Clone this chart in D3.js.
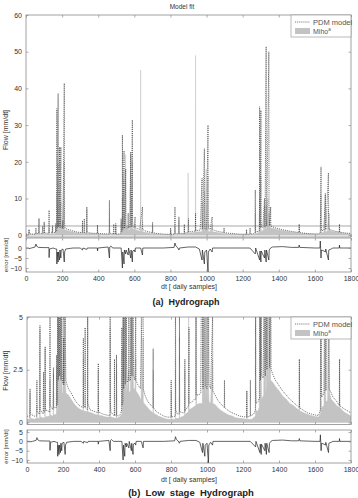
<!DOCTYPE html>
<html>
<head>
<meta charset="utf-8">
<script src="https://cdn.jsdelivr.net/npm/d3@7"></script>
<style>
  body { margin: 0; background: #fff; }
  svg { display: block; font-family: 'Liberation Sans', Arial, sans-serif; }
</style>
</head>
<body>
<div class="hydro-chart"></div>
<script>
// ---- data: [day, mm/dt] ----
const pdmModel = [
  [0,0.3],[15,0.25],[17,1.6],[18,0.4],[40,0.3],[54,0.3],[55,2.0],[56,0.5],[70,0.4],[72,4.6],[73,0.6],[90,0.4],[92,2.4],[93,0.5],
  [100,0.5],[101,3.6],[102,0.6],[126,0.5],[128,6.8],[129,0.8],[145,0.6],[147,2.6],[148,0.7],[163,0.7],[165,3.2],[166,0.8],[170,1.0],
  [171,34.5],[172,3.5],[174,2.0],[178,38.6],[179,4],[181,2.2],[186,24],[187,3.5],[189,2],[193,24],[194,3],[197,1.9],[202,1.8],[204,4],
  [205,1.8],[212,41.4],[213,4],[216,2.0],[222,1.8],[230,1.6],[245,1.4],[260,1.15],[275,0.95],[290,0.8],[312,0.7],[313,4.0],[314,0.8],
  [322,0.7],[323,4.5],[324,0.7],[336,0.6],[337,7.7],[338,0.9],[350,0.6],[380,0.5],[395,0.45],[396,2.8],[397,0.5],[420,0.4],[440,0.35],
  [461,0.32],[462,9.5],[463,1.0],[466,0.5],[485,0.3],[486,3.0],[487,0.35],[496,0.3],[497,3.2],[498,0.35],[510,0.3],[520,0.4],[526,0.6],
  [527,4.5],[528,0.8],[533,1.0],[534,27.3],[535,3.5],[537,1.6],[543,23],[544,3.5],[546,1.8],[552,18],[553,3],[556,1.9],[565,2],[566,6],
  [567,2],[575,2],[580,22.7],[581,4],[583,2.2],[589,31.4],[590,4],[593,2.2],[600,2],[604,5],[605,2],[615,1.8],[630,1.6],[645,7.7],
  [646,1.6],[655,1.3],[670,1.0],[690,0.8],[700,0.7],[701,3.5],[702,0.7],[720,0.5],[740,0.4],[760,0.3],[780,0.25],[800,0.25],[801,2.0],
  [802,0.25],[824,0.3],[825,7.7],[826,0.6],[835,0.4],[846,0.4],[847,5.0],[848,0.5],[870,0.45],[876,0.5],[877,3.0],[878,0.55],[898,0.8],
  [900,4.5],[901,0.9],[920,1.0],[930,1.1],[938,1.1],[939,6],[940,1.3],[955,1.3],[965,1.4],[975,15.5],[976,3],[978,1.6],[988,23.6],
  [989,3.5],[991,1.7],[1000,1.6],[1008,30],[1009,4],[1011,1.8],[1020,1.6],[1031,5],[1032,1.5],[1045,1.3],[1060,1.05],[1080,0.85],
  [1096,0.7],[1097,2.0],[1098,0.7],[1120,0.55],[1140,0.45],[1160,0.38],[1180,0.3],[1200,0.27],[1220,0.25],[1221,1.5],[1222,0.25],
  [1240,0.3],[1241,2.0],[1242,0.3],[1260,0.4],[1269,0.6],[1270,12.3],[1271,1.8],[1273,0.9],[1285,1.0],[1293,1.2],[1294,35],[1295,4],
  [1297,2],[1301,34],[1302,4],[1304,2.2],[1312,2.1],[1321,10],[1322,2.5],[1324,2.2],[1330,51.4],[1331,5],[1333,2.5],[1345,50],[1346,5],
  [1348,2.6],[1355,7.7],[1356,2.5],[1365,2.3],[1380,2.0],[1400,1.75],[1420,1.5],[1440,1.3],[1460,1.1],[1480,0.95],[1500,0.8],[1512,0.7],
  [1513,3.0],[1514,0.7],[1540,0.55],[1560,0.45],[1580,0.4],[1600,0.35],[1620,0.33],[1630,0.6],[1634,18.6],[1635,3],[1637,1.2],
  [1650,1.4],[1658,11.4],[1659,2.5],[1661,1.5],[1675,17],[1676,3],[1678,1.6],[1690,1.4],[1700,1.2],[1720,1.0],[1735,0.8],[1736,3.0],
  [1737,0.8],[1760,0.65],[1780,0.55],[1800,0.45]
];

const mihoObserved = [
  [0,0.15],[15,0.15],[17,1.4],[18,0.2],[40,0.15],[54,0.2],[55,0.8],[56,0.2],[71,0.2],[72,4.4],[73,0.25],[99,0.2],[100,3.5],[101,0.25],
  [126,0.3],[128,2.0],[129,0.35],[145,0.3],[147,2.3],[148,0.35],[164,0.4],[165,2.7],[166,0.45],[170,0.7],[171,12],[172,1.6],[174,1.1],
  [178,19.5],[179,2],[181,1.3],[186,12],[187,1.8],[189,1.3],[193,9],[194,1.8],[196,1.4],[200,1.4],[212,20],[213,2],[216,1.4],[230,1.3],
  [245,1.1],[260,0.9],[275,0.75],[290,0.65],[312,0.55],[313,3.0],[314,0.55],[336,0.5],[337,7.0],[338,0.5],[360,0.45],[380,0.38],
  [395,0.35],[396,2.5],[397,0.35],[420,0.3],[440,0.25],[461,0.25],[462,4.5],[463,0.27],[480,0.22],[497,0.2],[498,2.8],[499,0.2],
  [515,0.25],[527,0.4],[528,3.5],[529,0.5],[533,0.8],[534,10],[535,1.6],[537,1.0],[543,15],[544,1.8],[546,1.2],[552,22],[553,2.2],
  [555,1.4],[566,2.5],[567,1.4],[575,1.5],[580,22],[581,2.2],[583,1.6],[589,20],[590,2.2],[592,1.6],[600,1.6],[604,3],[605,1.5],
  [620,1.3],[634,1.05],[635,45],[636,2],[638,1.0],[645,4],[646,0.95],[660,0.8],[680,0.6],[700,0.45],[701,2.5],[702,0.45],[730,0.3],
  [760,0.2],[780,0.15],[801,0.15],[802,1.5],[803,0.15],[824,0.15],[825,2.5],[826,0.18],[846,0.2],[847,4.0],[848,0.22],[870,0.3],
  [876,0.35],[877,2.5],[878,0.37],[897,0.5],[898,17],[899,1.2],[901,0.6],[920,0.7],[938,0.8],[939,49],[940,2],[942,0.85],[960,0.9],
  [974,0.9],[975,9],[976,1.4],[978,0.95],[988,12],[989,1.5],[991,1.0],[998,18],[999,1.8],[1001,1.0],[1008,16],[1009,1.7],[1011,1.0],
  [1020,0.9],[1031,3],[1032,0.9],[1045,0.85],[1060,0.7],[1080,0.55],[1100,0.45],[1120,0.35],[1140,0.3],[1160,0.22],[1190,0.18],
  [1221,0.15],[1222,1.5],[1223,0.15],[1250,0.15],[1269,0.3],[1270,6],[1271,0.6],[1280,0.5],[1290,0.7],[1294,10],[1295,1.4],[1297,0.9],
  [1301,16],[1302,1.8],[1304,1.1],[1315,1.3],[1321,8],[1322,1.6],[1324,1.3],[1330,8],[1331,1.7],[1333,1.4],[1340,10],[1341,2],
  [1343,1.6],[1345,6],[1346,1.9],[1352,7.7],[1353,2.0],[1365,1.9],[1380,1.7],[1400,1.5],[1420,1.25],[1440,1.1],[1460,0.9],[1480,0.8],
  [1500,0.65],[1513,0.6],[1514,3],[1515,0.55],[1540,0.45],[1570,0.35],[1600,0.28],[1620,0.25],[1630,0.4],[1634,11],[1635,1.2],
  [1637,0.7],[1650,0.8],[1658,11],[1659,1.4],[1661,0.95],[1670,1.05],[1675,7],[1676,1.5],[1678,1.1],[1680,6],[1681,1.4],[1690,1.1],
  [1720,0.8],[1736,0.7],[1737,3],[1738,0.7],[1760,0.5],[1780,0.4],[1800,0.3]
];

const modelError = [
  [0,0],[15,0],[17,-0.3],[30,0],[50,0.5],[55,2],[60,0.8],[70,0.3],[100,0.2],[127,0.2],[128,-4.8],[130,-0.5],[150,0],[165,-0.5],
  [170,-0.5],[171,-8],[173,-2],[178,-7],[180,-2],[186,-6],[188,-1],[193,-5],[195,-1],[205,-0.5],[212,-7],[214,-2],[220,-0.5],[260,0],
  [300,0],[313,-1],[315,0],[337,-0.7],[340,0],[395,0],[396,-1.5],[398,0],[455,0.5],[462,-5],[464,0.5],[470,1],[480,0],[527,0],
  [534,-10],[536,-2],[543,-8],[545,-1],[552,-3],[554,-1],[566,-3.5],[568,0],[580,-5],[582,-1],[589,-7],[591,-1.5],[600,-1],[604,-2],
  [606,0],[635,0],[645,-3.5],[647,0],[700,0],[760,0],[820,0.3],[825,2.5],[830,1],[840,0.2],[847,-1],[850,0],[898,0.5],[939,0.5],
  [960,-0.5],[975,-6],[977,-1],[988,-8],[990,-2],[1000,-1],[1008,-12],[1010,-2],[1020,-0.5],[1031,-2],[1033,0],[1100,0],[1240,0],
  [1270,-3],[1272,0],[1294,-6],[1296,-1.5],[1301,-7],[1303,-1.5],[1321,-5],[1323,-1],[1330,-7],[1332,-1],[1345,-6],[1347,-1],[1355,0],
  [1365,0.5],[1420,0.7],[1470,0.3],[1510,0.3],[1513,1.5],[1516,0.3],[1600,0],[1628,0],[1630,3.5],[1634,-5],[1636,-1],[1650,-1.5],
  [1658,-2],[1660,-0.5],[1675,-6],[1677,-1],[1690,-0.5],[1700,0],[1735,0],[1736,1.5],[1738,0],[1800,0]
];

const lowStageLimit = 2.5;
const dayTicks = [0, 200, 400, 600, 800, 1000, 1200, 1400, 1600, 1800];
const flowTicksTop = [0, 10, 20, 30, 40, 50, 60];
const flowTicksLow = [0, 2.5, 5];
const errTicksTop = [-10, -5, 0];
const errTicksLow = [-10, -5, 0, 5];

// ---- drawing ----
const W = 358, H = 498;
const svg = d3.select('.hydro-chart').append('svg').attr('width', W).attr('height', H);
const defs = svg.append('defs');
const ink = '#333', boxCol = '#8a8a8a', fillCol = '#c3c3c3';

svg.append('text').attr('x', 182).attr('y', 9).attr('text-anchor', 'middle')
  .style('font-size', '6.5px').style('fill', ink).text('Model fit');

let clipN = 0;
function panel(cfg) {
  const x = d3.scaleLinear().domain([0, 1800]).range([cfg.left, 351]);
  const y = d3.scaleLinear().domain(cfg.yDomain).range([cfg.bottom, cfg.top]);
  const id = 'clip' + (clipN++);
  defs.append('clipPath').attr('id', id).append('rect')
    .attr('x', cfg.left).attr('y', cfg.top).attr('width', 351 - cfg.left).attr('height', cfg.bottom - cfg.top);
  const g = svg.append('g');
  const inner = g.append('g').attr('clip-path', `url(#${id})`);

  // ticks on all four sides, pointing inward
  const tl = 2.5;
  g.append('g').attr('transform', `translate(${cfg.left},0)`)
    .call(d3.axisLeft(y).tickValues(cfg.yTicks).tickSize(-tl).tickPadding(4).tickFormat(d3.format('~g')))
    .call(a => a.select('.domain').remove());
  g.append('g').attr('transform', `translate(351,0)`)
    .call(d3.axisRight(y).tickValues(cfg.yTicks).tickSize(-tl).tickFormat(''))
    .call(a => a.select('.domain').remove());
  g.append('g').attr('transform', `translate(0,${cfg.top})`)
    .call(d3.axisTop(x).tickValues(dayTicks).tickSize(-tl).tickFormat(''))
    .call(a => a.select('.domain').remove());
  g.append('g').attr('transform', `translate(0,${cfg.bottom})`)
    .call(d3.axisBottom(x).tickValues(dayTicks).tickSize(-tl).tickPadding(4).tickFormat(cfg.xLabels ? d3.format('d') : ''))
    .call(a => a.select('.domain').remove());
  g.selectAll('.tick line').attr('stroke', boxCol).attr('stroke-width', 0.7);
  g.selectAll('.tick text').style('font-size', '7px').style('fill', ink).attr('font-family', null);

  g.append('rect').attr('x', cfg.left).attr('y', cfg.top)
    .attr('width', 351 - cfg.left).attr('height', cfg.bottom - cfg.top)
    .attr('fill', 'none').attr('stroke', boxCol).attr('stroke-width', 0.8);

  g.append('text')
    .attr('transform', `translate(8,${(cfg.top + cfg.bottom) / 2 + (cfg.labelShift || 0)}) rotate(-90)`)
    .attr('text-anchor', 'middle').style('font-size', cfg.labelSize || '7px').style('fill', ink)
    .text(cfg.label);
  return { x, y, inner, g };
}

function flowPanel(cfg) {
  const p = panel(cfg);
  p.inner.append('path').datum(mihoObserved)
    .attr('fill', fillCol).attr('stroke', fillCol).attr('stroke-width', 0.5)
    .attr('d', d3.area().x(d => p.x(d[0])).y0(p.y(0)).y1(d => p.y(d[1])));
  if (cfg.threshold) {
    p.inner.append('line').attr('x1', cfg.left).attr('x2', 351)
      .attr('y1', p.y(lowStageLimit)).attr('y2', p.y(lowStageLimit))
      .attr('stroke', '#a8a8a8').attr('stroke-width', 1);
  }
  p.inner.append('path').datum(pdmModel)
    .attr('fill', 'none').attr('stroke', '#3a3a3a').attr('stroke-width', 0.7)
    .attr('stroke-dasharray', '1.1,1')
    .attr('d', d3.line().x(d => p.x(d[0])).y(d => p.y(d[1])));

  // legend
  const lg = p.g.append('g').attr('transform', `translate(291,${cfg.top})`);
  lg.append('rect').attr('width', 60).attr('height', 22)
    .attr('fill', '#fff').attr('stroke', boxCol).attr('stroke-width', 0.6);
  lg.append('line').attr('x1', 4).attr('x2', 19).attr('y1', 7).attr('y2', 7)
    .attr('stroke', '#3a3a3a').attr('stroke-width', 0.7).attr('stroke-dasharray', '1.1,1');
  lg.append('text').attr('x', 22).attr('y', 9.5).style('font-size', '7.5px').style('fill', '#555').text('PDM model');
  lg.append('rect').attr('x', 4).attr('y', 13).attr('width', 15).attr('height', 6).attr('fill', fillCol);
  const t = lg.append('text').attr('x', 22).attr('y', 18.5).style('font-size', '7px').style('fill', '#555').text('Miho');
  t.append('tspan').attr('dy', -3).style('font-size', '4.5px').text('a');
  return p;
}

function errorPanel(cfg) {
  const p = panel(cfg);
  p.inner.append('path').datum(modelError)
    .attr('fill', 'none').attr('stroke', '#222').attr('stroke-width', 0.7)
    .attr('d', d3.line().x(d => p.x(d[0])).y(d => p.y(d[1])));
  return p;
}

// (a) hydrograph
flowPanel({ left: 26, top: 15, bottom: 237, yDomain: [-0.5, 60], yTicks: flowTicksTop,
  label: 'Flow [mm/dt]', threshold: true, labelShift: 4 });
errorPanel({ left: 26, top: 238, bottom: 272, yDomain: [-12, 5], yTicks: errTicksTop,
  label: 'error [mm/dt]', labelSize: '6px', xLabels: true });
svg.append('text').attr('x', 189).attr('y', 289).attr('text-anchor', 'middle')
  .style('font-size', '7px').style('fill', ink).text('dt [ daily samples]');
svg.append('text').attr('x', 186).attr('y', 305).attr('text-anchor', 'middle')
  .style('font-size', '9px').style('font-weight', 'bold').style('fill', '#222')
  .attr('xml:space', 'preserve').text('(a)  Hydrograph');

// (b) low stage hydrograph
flowPanel({ left: 27, top: 317, bottom: 424.5, yDomain: [-0.1, 5], yTicks: flowTicksLow,
  label: 'Flow [mm/dt]' });
errorPanel({ left: 27, top: 430, bottom: 463, yDomain: [-11.6, 6.1], yTicks: errTicksLow,
  label: 'error [mm/dt]', labelSize: '6px', xLabels: true });
svg.append('text').attr('x', 189).attr('y', 482).attr('text-anchor', 'middle')
  .style('font-size', '7px').style('fill', ink).text('dt [ daily samples]');
svg.append('text').attr('x', 191).attr('y', 496).attr('text-anchor', 'middle')
  .style('font-size', '9.5px').style('font-weight', 'bold').style('fill', '#222')
  .attr('xml:space', 'preserve').text('(b)  Low  stage  Hydrograph');
</script>
</body>
</html>
